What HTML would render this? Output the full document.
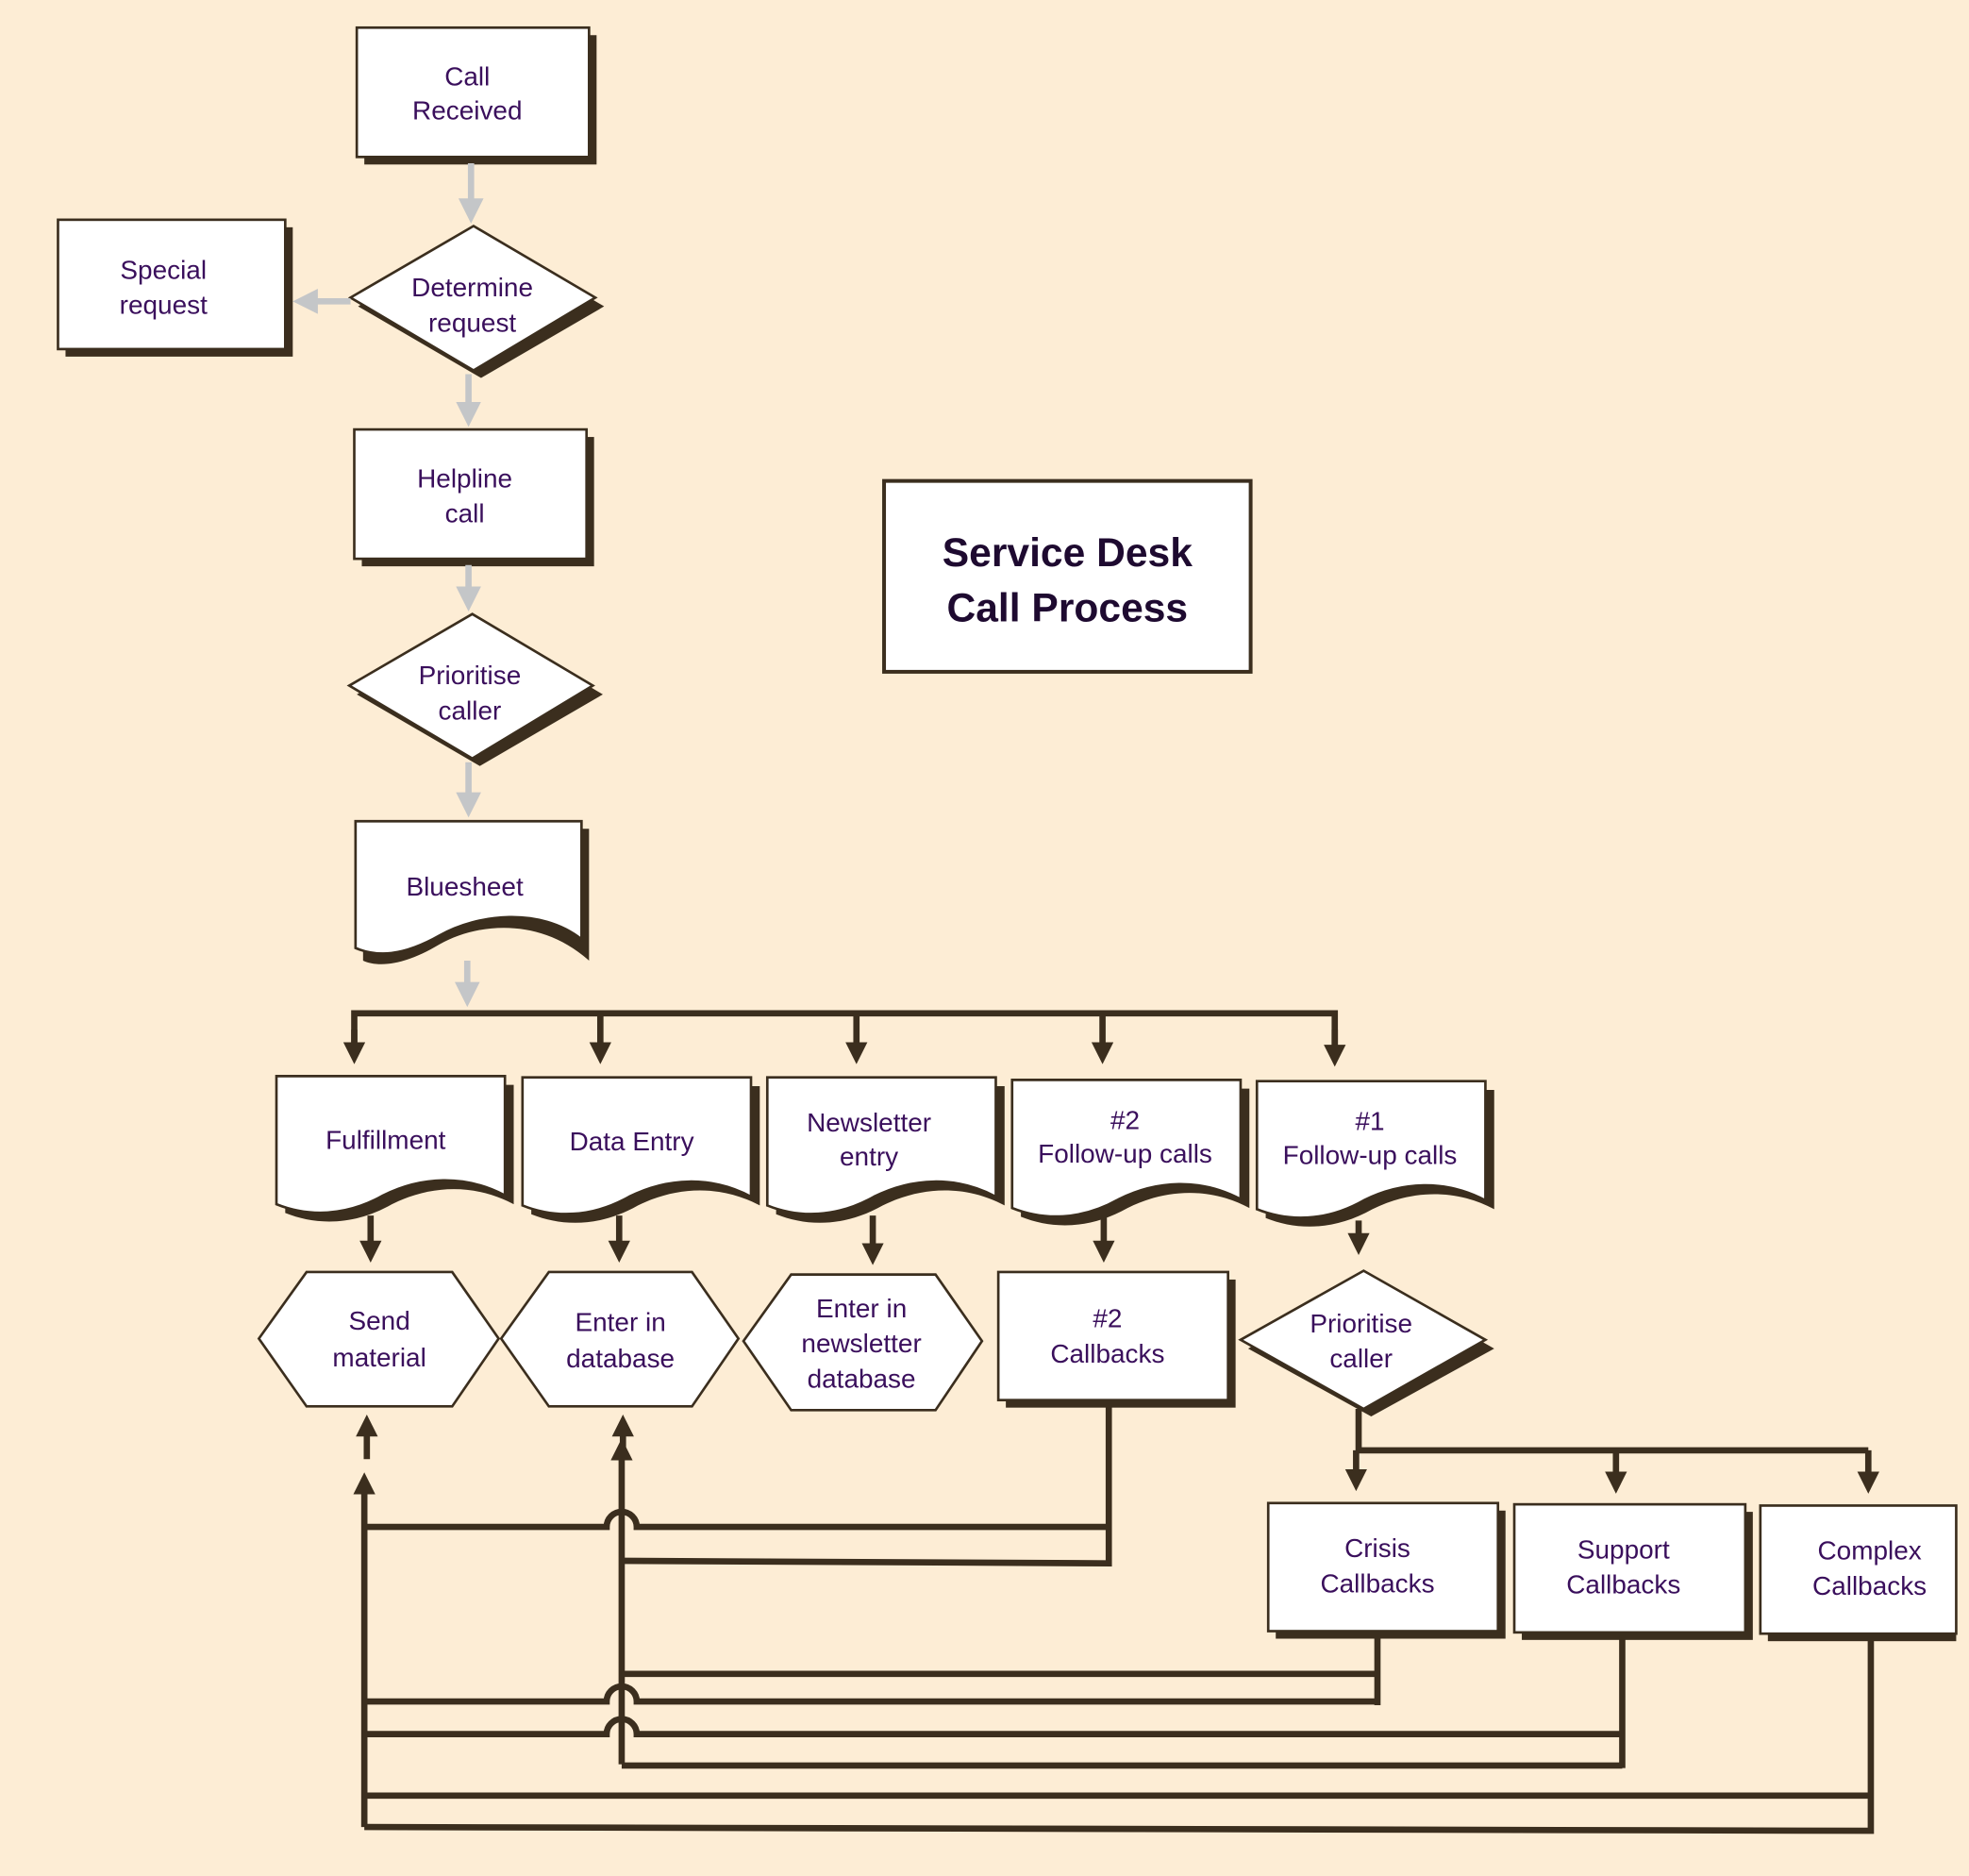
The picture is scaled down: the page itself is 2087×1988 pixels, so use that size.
<!DOCTYPE html>
<html><head><meta charset="utf-8"><style>
html,body{margin:0;padding:0;background:#fdedd5;}
svg{display:block}
text{font-family:"Liberation Sans","DejaVu Sans",sans-serif;fill:#3a0f5c;font-size:21px;text-anchor:middle}
</style></head><body>
<svg width="2087" height="1988" viewBox="0 0 1568 1494" xmlns="http://www.w3.org/2000/svg">
<defs>
<marker id="ag" markerWidth="4" markerHeight="4" refX="2" refY="2" orient="auto" markerUnits="strokeWidth"><path d="M0,0 L4,2 L0,4 z" fill="#c4c6c8"/></marker>
<marker id="ad" markerWidth="3.5" markerHeight="3.5" refX="2" refY="1.75" orient="auto" markerUnits="strokeWidth"><path d="M0,0 L3.5,1.75 L0,3.5 z" fill="#3b2e1e"/></marker>
</defs>
<rect width="1568" height="1494" fill="#fdedd5"/>
<g fill="#3b2e1e">
<rect x="290" y="28" width="185" height="103"/>
<rect x="52" y="181" width="181" height="103"/>
<rect x="288" y="348" width="185" height="103"/>
<rect x="801" y="1019" width="183" height="102"/>
<rect x="1016" y="1203" width="183" height="102"/>
<rect x="1212" y="1204" width="184" height="102"/>
<rect x="1408" y="1205" width="150" height="102"/>
<polygon points="383,186 481,244 383,301 285,244"/>
<polygon points="382,495 480,553 382,610 284,553"/>
<polygon points="1092,1018 1190,1074 1092,1128 994,1074"/>
</g>
<g fill="#fff" stroke="#3b2e1e" stroke-width="2">
<rect x="284" y="22" width="185" height="103"/>
<rect x="46" y="175" width="181" height="103"/>
<rect x="282" y="342" width="185" height="103"/>
<rect x="795" y="1013" width="183" height="102"/>
<rect x="1010" y="1197" width="183" height="102"/>
<rect x="1206" y="1198" width="184" height="102"/>
<rect x="1402" y="1199" width="156" height="102"/>
<polygon points="377,180 474,237 377,295 279,237"/>
<polygon points="376,489 472,546 376,604 278,546"/>
<polygon points="1086,1012 1183,1067 1086,1122 988,1067"/>
<polygon points="206,1066 244,1013 360,1013 397,1066 360,1120 244,1120"/>
<polygon points="399,1066 437,1013 551,1013 588,1066 551,1120 437,1120"/>
<polygon points="592,1068 630,1015 745,1015 782,1068 745,1123 630,1123"/>
</g>
<rect x="704" y="383" width="292" height="152" fill="#fff" stroke="#3b2e1e" stroke-width="3"/>
<!-- documents -->
<g>
<path d="M289,660 h180 v105 C430,730 380,735 350,752 C320,770 300,770 289,765 z" fill="#3b2e1e"/>
<path d="M283,654 h180 v94 C430,722 380,728 350,745 C320,762 300,762 283,755 z" fill="#fff" stroke="#3b2e1e" stroke-width="2"/>
</g>
<g fill="#3b2e1e">
<path d="M227,864 h182 v95 C377,942 342,944 312,959 C282,976 252,976 227,966 z"/>
<path d="M423,865 h182 v95 C573,943 538,945 508,960 C478,977 448,977 423,967 z"/>
<path d="M618,865 h182 v95 C768,943 733,945 703,960 C673,977 643,977 618,967 z"/>
<path d="M813,867 h182 v95 C963,945 928,947 898,962 C868,979 838,979 813,969 z"/>
<path d="M1008,868 h182 v95 C1158,946 1123,948 1093,963 C1063,980 1033,980 1008,970 z"/>
</g>
<g fill="#fff" stroke="#3b2e1e" stroke-width="2">
<path d="M220,857 h182 v95 C370,935 335,937 305,952 C275,969 245,969 220,959 z"/>
<path d="M416,858 h182 v95 C566,936 531,938 501,953 C471,970 441,970 416,960 z"/>
<path d="M611,858 h182 v95 C761,936 726,938 696,953 C666,970 636,970 611,960 z"/>
<path d="M806,860 h182 v95 C956,938 921,940 891,955 C861,972 831,972 806,962 z"/>
<path d="M1001,861 h182 v95 C1151,939 1116,941 1086,956 C1056,973 1026,973 1001,963 z"/>
</g>
<!-- gray arrows -->
<g stroke="#c4c6c8" stroke-width="5" fill="none" marker-end="url(#ag)">
<line x1="375" y1="130" x2="375" y2="168"/>
<line x1="279" y1="240" x2="243" y2="240"/>
<line x1="373" y1="298" x2="373" y2="330"/>
<line x1="373" y1="450" x2="373" y2="477"/>
<line x1="373" y1="607" x2="373" y2="641"/>
<line x1="372" y1="765" x2="372" y2="792"/>
</g>
<!-- dark lines -->
<g stroke="#3b2e1e" stroke-width="5" fill="none">
<polyline points="282,840 282,807 1063,807 1063,840"/>
<line x1="478" y1="807" x2="478" y2="840" marker-end="url(#ad)"/>
<line x1="682" y1="807" x2="682" y2="840" marker-end="url(#ad)"/>
<line x1="878" y1="807" x2="878" y2="840" marker-end="url(#ad)"/>
<line x1="282" y1="820" x2="282" y2="840" marker-end="url(#ad)"/>
<line x1="1063" y1="820" x2="1063" y2="842" marker-end="url(#ad)"/>
<line x1="295" y1="968" x2="295" y2="998" marker-end="url(#ad)"/>
<line x1="493" y1="968" x2="493" y2="998" marker-end="url(#ad)"/>
<line x1="695" y1="968" x2="695" y2="1000" marker-end="url(#ad)"/>
<line x1="879" y1="968" x2="879" y2="998" marker-end="url(#ad)"/>
<line x1="1082" y1="972" x2="1082" y2="992" marker-end="url(#ad)"/>
<polyline points="1082,1122 1082,1155 1488,1155"/>
<line x1="1080" y1="1155" x2="1080" y2="1180" marker-end="url(#ad)"/>
<line x1="1287" y1="1155" x2="1287" y2="1182" marker-end="url(#ad)"/>
<line x1="1488" y1="1155" x2="1488" y2="1182" marker-end="url(#ad)"/>
<line x1="292" y1="1162" x2="292" y2="1134" marker-end="url(#ad)"/>
<line x1="496" y1="1162" x2="496" y2="1134" marker-end="url(#ad)"/>
<line x1="290" y1="1455" x2="290" y2="1180" marker-end="url(#ad)"/>
<line x1="495" y1="1405" x2="495" y2="1153" marker-end="url(#ad)"/>
<polyline points="883,1118 883,1245 495,1243"/>
<path d="M290,1216 H483 A12,12 0 0 1 507,1216 H883"/>
<polyline points="1097,1302 1097,1358"/>
<line x1="495" y1="1333" x2="1097" y2="1333"/>
<path d="M290,1355 H483 A12,12 0 0 1 507,1355 H1097"/>
<polyline points="1292,1303 1292,1408"/>
<path d="M290,1381 H483 A12,12 0 0 1 507,1381 H1292"/>
<line x1="495" y1="1406" x2="1292" y2="1406"/>
<polyline points="1490,1304 1490,1458 290,1455"/>
<line x1="290" y1="1430" x2="1490" y2="1430"/>
</g>
<!-- labels -->
<text x="372" y="68">Call</text><text x="372" y="95">Received</text>
<text x="130" y="222">Special</text><text x="130" y="250">request</text>
<text x="376" y="236">Determine</text><text x="376" y="264">request</text>
<text x="370" y="388">Helpline</text><text x="370" y="416">call</text>
<text x="374" y="545">Prioritise</text><text x="374" y="573">caller</text>
<text x="370" y="713">Bluesheet</text>
<text x="307" y="915">Fulfillment</text>
<text x="503" y="916">Data Entry</text>
<text x="692" y="901">Newsletter</text><text x="692" y="928">entry</text>
<text x="896" y="899">#2</text><text x="896" y="926">Follow-up calls</text>
<text x="1091" y="900">#1</text><text x="1091" y="927">Follow-up calls</text>
<text x="302" y="1059">Send</text><text x="302" y="1088">material</text>
<text x="494" y="1060">Enter in</text><text x="494" y="1089">database</text>
<text x="686" y="1049">Enter in</text><text x="686" y="1077">newsletter</text><text x="686" y="1105">database</text>
<text x="882" y="1057">#2</text><text x="882" y="1085">Callbacks</text>
<text x="1084" y="1061">Prioritise</text><text x="1084" y="1089">caller</text>
<text x="1097" y="1240">Crisis</text><text x="1097" y="1268">Callbacks</text>
<text x="1293" y="1241">Support</text><text x="1293" y="1269">Callbacks</text>
<text x="1489" y="1242">Complex</text><text x="1489" y="1270">Callbacks</text>
<text x="850" y="451" style="font-size:32px;font-weight:bold;fill:#1e0a30">Service Desk</text>
<text x="850" y="495" style="font-size:32px;font-weight:bold;fill:#1e0a30">Call Process</text>
</svg>
</body></html>
